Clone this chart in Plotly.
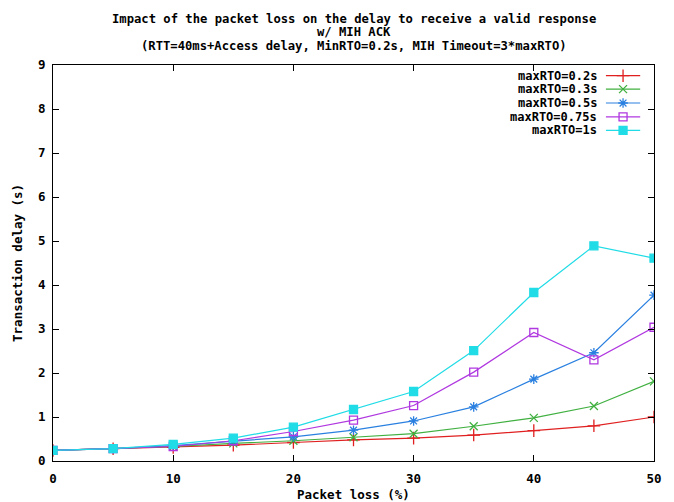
import plotly.graph_objects as go

packet_loss = [0, 5, 10, 15, 20, 25, 30, 35, 40, 45, 50]
series_names = ["maxRTO=0.2s", "maxRTO=0.3s", "maxRTO=0.5s", "maxRTO=0.75s", "maxRTO=1s"]
delay_02 = [0.24, 0.28, 0.31, 0.36, 0.42, 0.48, 0.52, 0.59, 0.69, 0.80, 1.00]
delay_03 = [0.24, 0.28, 0.33, 0.40, 0.46, 0.54, 0.62, 0.79, 0.98, 1.25, 1.81]
delay_05 = [0.24, 0.28, 0.35, 0.45, 0.55, 0.70, 0.91, 1.23, 1.86, 2.46, 3.77]
delay_075 = [0.24, 0.28, 0.33, 0.46, 0.67, 0.93, 1.26, 2.02, 2.92, 2.30, 3.04]
delay_1 = [0.24, 0.28, 0.38, 0.52, 0.77, 1.17, 1.58, 2.51, 3.83, 4.89, 4.61]
y_ticks = [0, 1, 2, 3, 4, 5, 6, 7, 8, 9]
x_ticks = [0, 10, 20, 30, 40, 50]

all_series = [delay_02, delay_03, delay_05, delay_075, delay_1]
colors = ["#e02020", "#40b040", "#2a80e0", "#b038e0", "#20dce6"]
symbols = ["cross-thin", "x-thin", "asterisk", "square-open", "square"]
sizes = [9, 8, 8, 8, 8]

FONT = "DejaVu Sans Mono"
fig = go.Figure()

for name, ys, c, s, sz in zip(series_names, all_series, colors, symbols, sizes):
    fig.add_trace(go.Scatter(
        x=packet_loss, y=ys, mode="lines+markers", name=name,
        line=dict(color=c, width=1.2),
        marker=dict(symbol=s, size=sz, color=c, line=dict(color=c, width=1.3)),
        showlegend=False,
    ))

# gnuplot-style key: right-aligned text, sample line + marker to the right
key_rows = [0.973, 0.939, 0.904, 0.869, 0.835]
for name, c, s, sz, ky in zip(series_names, colors, symbols, sizes, key_rows):
    fig.add_annotation(x=0.908, y=ky, xref="paper", yref="paper", text="<b>" + name + "</b>",
                       showarrow=False, xanchor="right", yanchor="middle",
                       font=dict(family=FONT, size=12, color="black"))
    fig.add_shape(type="line", xref="paper", yref="paper", x0=0.920, x1=0.977, y0=ky, y1=ky,
                  line=dict(color=c, width=1.2))
    fig.add_trace(go.Scatter(x=[0.9485], y=[ky], xaxis="x2", yaxis="y2", mode="markers",
                             marker=dict(symbol=s, size=sz, color=c, line=dict(color=c, width=1.3)),
                             showlegend=False, hoverinfo="skip"))

title_lines = [
    "Impact of the packet loss on the delay to receive a valid response",
    "w/ MIH ACK",
    "(RTT=40ms+Access delay, MinRTO=0.2s, MIH Timeout=3*maxRTO)",
]
for t, ty in zip(title_lines, [1.117, 1.084, 1.049]):
    fig.add_annotation(x=0.5, y=ty, xref="paper", yref="paper", text="<b>" + t + "</b>",
                       showarrow=False, xanchor="center", yanchor="middle",
                       font=dict(family=FONT, size=12.2, color="black"))

fig.add_annotation(x=0.5, y=-0.085, xref="paper", yref="paper", text="<b>Packet loss (%)</b>",
                   showarrow=False, xanchor="center", yanchor="middle",
                   font=dict(family=FONT, size=12.5, color="black"))
fig.add_annotation(x=-0.06, y=0.5, xref="paper", yref="paper", text="<b>Transaction delay (s)</b>",
                   showarrow=False, xanchor="center", yanchor="middle", textangle=-90,
                   font=dict(family=FONT, size=12.5, color="black"))

axis_common = dict(showgrid=False, zeroline=False, showline=True, linecolor="black", linewidth=1,
                   mirror="ticks", ticks="inside", ticklen=6, tickcolor="black", tickwidth=1,
                   tickfont=dict(family=FONT, size=12.5, color="black"))

fig.update_layout(
    width=674, height=502,
    margin=dict(l=53, r=20, t=65, b=41),
    paper_bgcolor="white", plot_bgcolor="white",
    xaxis=dict(range=[0, 50], tickvals=x_ticks, ticktext=["<b>%d</b>" % v for v in x_ticks],
               ticklabelstandoff=6, **axis_common),
    yaxis=dict(range=[0, 9], tickvals=y_ticks, ticktext=["<b>%d</b>" % v for v in y_ticks],
               ticklabelstandoff=4, **axis_common),
    xaxis2=dict(range=[0, 1], overlaying="x", visible=False),
    yaxis2=dict(range=[0, 1], overlaying="y", visible=False),
    showlegend=False,
)

fig.write_html("out.html")
